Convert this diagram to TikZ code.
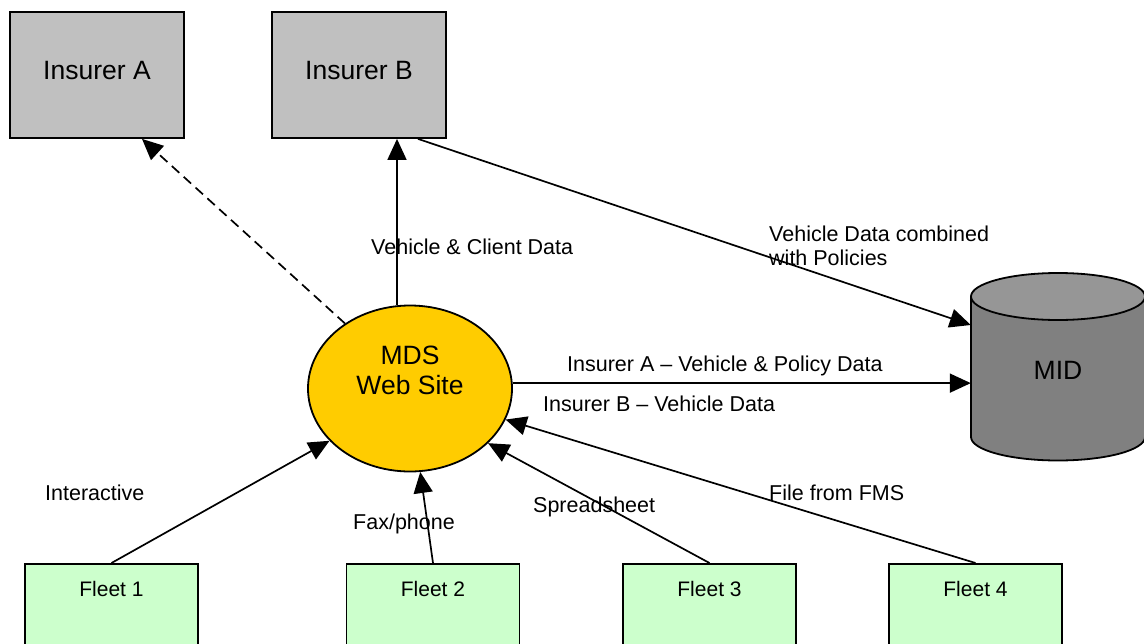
\documentclass[tikz,border=0pt]{standalone}
\usepackage{fontspec}
\setmainfont{Liberation Sans}
\usetikzlibrary{arrows.meta,shapes.geometric}
\definecolor{insurergray}{RGB}{192,192,192}
\definecolor{siteyellow}{RGB}{255,204,0}
\definecolor{fleetgreen}{RGB}{204,255,204}
\definecolor{midbody}{RGB}{128,128,128}
\definecolor{midtop}{RGB}{150,150,150}
\tikzset{
    insurer/.style={draw,line width=1.8pt,fill=insurergray,minimum width=174pt,
        minimum height=126pt,text depth=10pt,font=\fontsize{26.5}{30}\selectfont},
    fleet/.style={draw,line width=1.8pt,fill=fleetgreen,anchor=north,minimum width=173pt,
        inner ysep=17.5pt,text height=15pt,text depth=80pt,font=\fontsize{21}{24}\selectfont},
    site/.style={ellipse,draw,line width=1.8pt,fill=siteyellow,
        minimum width=204pt,minimum height=166pt},
}

\begin{document}
\begin{tikzpicture}[x=1pt,y=-1pt,
    flow/.style={line width=1.7pt,-{Triangle[length=21pt,width=19pt]}},
    note/.style={inner sep=0pt,font=\fontsize{21.5}{24}\selectfont}]
    \useasboundingbox (0,0) rectangle (1144,643);
    % the database
    \draw[line width=1.8pt,fill=midbody] (971,296.5) -- (971,437)
        arc[start angle=180,end angle=360,x radius=87pt,y radius=23.5pt] -- (1145,296.5) -- cycle;
    \draw[line width=1.8pt,fill=midtop] (1058,296.5) ellipse[x radius=87pt,y radius=23.5pt];
    \node[font=\fontsize{26.5}{30}\selectfont,minimum width=174pt,minimum height=164pt] (MID) at (1058,370) {MID};
    %
    \node[insurer] (InsA) at (97,75) {Insurer A};
    \node[insurer] (InsB) at (359,75) {Insurer B};
    \node[site] (MDS) at (410,388.5) {};
    \node[align=center,font=\fontsize{26.5}{30}\selectfont] (MDStext) at (410,370) {MDS\\Web Site};
    \node[fleet] (F1) at (111.5,563) {Fleet 1};
    \node[fleet] (F2) at (433,563) {Fleet 2};
    \node[fleet] (F3) at (709.5,563) {Fleet 3};
    \node[fleet] (F4) at (975.5,563) {Fleet 4};
    %
    \draw[flow,dash pattern=on 10pt off 6pt] (MDS.135) -- ([xshift=45pt]InsA.south);
    \coordinate (vc) at ([xshift=38pt]InsB.south);
    \draw[flow] (vc |- MDS.north) -- (vc);
    \draw[flow] ([xshift=59pt]InsB.south) -- ([yshift=45pt]MID.west);
    \draw[flow] (MDS.3) -- (MDS.3 -| MID.west);
    \draw[flow] (F1.north) -- (MDS.213);
    \draw[flow] (F2.north) -- (MDS.277);
    \draw[flow] (F3.north) -- (MDS.325);
    \draw[flow] (F4.north) -- (MDS.342);
    %
    \node[note,anchor=base west] (lblVC) at (371,254.5) {Vehicle \& Client Data};
    \node[note,anchor=north west,align=left] (lblComb) at (769,225.5) {Vehicle Data combined\\with Policies};
    \node[note,anchor=base west] (lblA) at (567,371.5) {Insurer A – Vehicle \& Policy Data};
    \node[note,anchor=base west] (lblB) at (543,411.5) {Insurer B – Vehicle Data};
    \node[note,anchor=base west] (lblInt) at (45,500.5) {Interactive};
    \node[note,anchor=base west] (lblFax) at (353,529.5) {Fax/phone};
    \node[note,anchor=base west] (lblSS) at (533,512.5) {Spreadsheet};
    \node[note,anchor=base west] (lblFMS) at (769,500.5) {File from FMS};
\end{tikzpicture}
\end{document}
